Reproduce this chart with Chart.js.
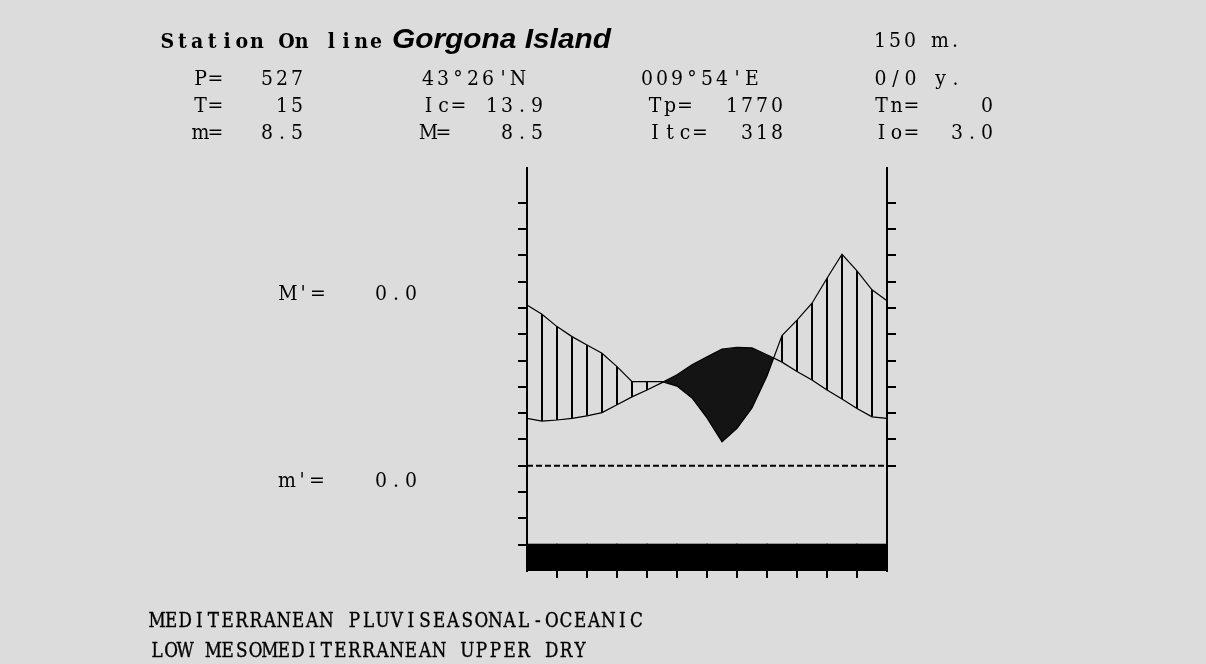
<!DOCTYPE html>
<html>
<head>
<meta charset="utf-8">
<title>Gorgona Island - bioclimatic diagram</title>
<script src="https://cdn.jsdelivr.net/npm/chart.js@4.4.0/dist/chart.umd.min.js"></script>
<style>
  html, body { margin: 0; padding: 0; background: #dcdcdc; }
  #wrap { position: relative; width: 1206px; height: 664px; overflow: hidden; }
  #chart, #labels { position: absolute; left: 0; top: 0; }
  .cell { font-family: 'DejaVu Serif', serif; font-size: 21px; fill: #000; }
  .head { font-family: 'DejaVu Serif', serif; font-size: 20px; font-weight: bold; fill: #000; }
  .foot { font-family: 'DejaVu Serif', serif; font-size: 21px; fill: #000; stroke: #000; stroke-width: 0.4px; }
  .name { font-family: 'Liberation Sans', Arial, sans-serif; font-size: 28px; font-weight: bold; font-style: italic; fill: #000; }
</style>
</head>
<body>
<div id="wrap">
  <canvas id="chart" width="1206" height="664"></canvas>
  <svg id="labels" width="1206" height="664" xmlns="http://www.w3.org/2000/svg"></svg>
</div>
<script>
// ---- data ----
// position along the year in months (0 = start of Jan, 12 = end of Dec)
const monthPos = [0, 0.5, 1, 1.5, 2, 2.5, 3, 3.5, 4, 4.5, 5, 5.5, 6, 6.5, 7, 7.5, 8, 8.5, 9, 9.5, 10, 10.5, 11, 11.5, 12];
// mean temperature, °C
const temperature = [9.0, 8.5, 8.7, 9.0, 9.5, 10.1, 11.6, 13.1, 14.4, 15.8, 17.3, 19.2, 20.7, 22.2, 22.5, 22.4, 21.1, 19.7, 17.9, 16.3, 14.4, 12.7, 10.9, 9.3, 9.0];
// precipitation, mm
const precipitation = [61.1, 57.6, 52.9, 49.1, 45.9, 42.8, 37.7, 32.0, 32.0, 32.0, 30.3, 25.8, 18.2, 9.1, 14.2, 22.0, 34.1, 49.5, 55.4, 61.8, 71.3, 80.4, 74.1, 66.9, 62.7];

const months = ['Jan', 'Feb', 'Mar', 'Apr', 'May', 'Jun', 'Jul', 'Aug', 'Sep', 'Oct', 'Nov', 'Dec'];
const frostFree = [1, 1, 1, 1, 1, 1, 1, 1, 1, 1, 1, 1];
const frostBand = [-20, -15];      // °C band used for the frost strip

const tempTicks = [-15, -10, -5, 0, 5, 10, 15, 20, 25, 30, 35, 40, 45, 50];
const precTicks = [0, 10, 20, 30, 40, 50, 60, 70, 80, 90, 100];
const monthTicks = [1, 2, 3, 4, 5, 6, 7, 8, 9, 10, 11];

const headerLeft = ['Station On line'];
const stationName = ['Gorgona Island'];
const altitude = ['150 m.'];
const statLabels = ['P=', 'T=', 'm=', 'Ic=', 'M=', 'Tp=', 'Itc=', 'Tn=', 'Io='];
const statValues = ['527', '15', '8.5', '13.9', '8.5', '1770', '318', '0', '3.0'];
const coords = ['43°26\'N', '009°54\'E', '0/0 y.'];
const sideLabels = ['M\'=', 'm\'='];
const sideValues = ['0.0', '0.0'];
const bioclimate = ['MEDITERRANEAN PLUVISEASONAL-OCEANIC', 'LOW MESOMEDITERRANEAN UPPER DRY'];

// ---- chart ----
const canvas = document.getElementById('chart');
const ctx = canvas.getContext('2d');

// vertical hatching for the humid period, lined up with the half-month grid
function makeHatch() {
    const tile = document.createElement('canvas');
    tile.width = 15;
    tile.height = 4;
    const g = tile.getContext('2d');
    g.fillStyle = '#000';
    g.fillRect(1, 0, 2, 4);
    return ctx.createPattern(tile, 'repeat');
}

const tempPoints = monthPos.map((x, i) => ({ x: x, y: temperature[i] }));
const precPoints = monthPos.map((x, i) => ({ x: x, y: precipitation[i] }));
const frostBars = months.map((m, i) => frostFree[i] ? { x: i + 0.5, y: frostBand } : null).filter(Boolean);
const zeroLine = [{ x: 0, y: 0 }, { x: 12, y: 0 }];

function setTicks(values) {
    return function (scale) {
        scale.ticks = values.map(v => ({ value: v }));
    };
}

new Chart(ctx, {
    data: {
        datasets: [
            {
                type: 'line',
                label: 'Precipitation',
                data: precPoints,
                yAxisID: 'yP',
                borderColor: '#000',
                borderWidth: 1.2,
                pointRadius: 0,
                tension: 0,
                fill: { target: 1, above: makeHatch(), below: '#141414' }
            },
            {
                type: 'line',
                label: 'Temperature',
                data: tempPoints,
                yAxisID: 'yT',
                borderColor: '#000',
                borderWidth: 1.2,
                pointRadius: 0,
                tension: 0,
                fill: false
            },
            {
                type: 'line',
                label: '0 °C',
                data: zeroLine,
                yAxisID: 'yT',
                borderColor: '#000',
                borderWidth: 2,
                borderDash: [6, 3],
                pointRadius: 0,
                fill: false
            },
            {
                type: 'bar',
                label: 'Frost free',
                data: frostBars,
                yAxisID: 'yT',
                backgroundColor: '#000',
                borderWidth: 0,
                inflateAmount: 1,
                barPercentage: 1,
                categoryPercentage: 1
            }
        ]
    },
    options: {
        responsive: false,
        animation: false,
        devicePixelRatio: 1,
        layout: { padding: { left: 518, right: 310, top: 168, bottom: 86 } },
        plugins: {
            legend: { display: false },
            tooltip: { enabled: false },
            filler: { drawTime: 'beforeDatasetsDraw' }
        },
        scales: {
            x: {
                type: 'linear',
                min: 0,
                max: 12,
                offset: false,
                afterBuildTicks: setTicks(monthTicks),
                afterFit: s => { s.height = 7; },
                ticks: { display: false },
                grid: { offset: false, drawOnChartArea: false, drawTicks: true, tickLength: 7, color: '#000', lineWidth: 2 },
                border: { display: false }
            },
            yT: {
                type: 'linear',
                position: 'left',
                min: -20,
                max: 56.6,
                afterBuildTicks: setTicks(tempTicks),
                afterFit: s => { s.width = 9; },
                ticks: { display: false },
                grid: { drawOnChartArea: false, drawTicks: true, tickLength: 9, color: '#000', lineWidth: 2 },
                border: { display: true, color: '#000', width: 2 }
            },
            yP: {
                type: 'linear',
                position: 'right',
                min: -40,
                max: 113.2,
                afterBuildTicks: setTicks(precTicks),
                afterFit: s => { s.width = 9; },
                ticks: { display: false },
                grid: { drawOnChartArea: false, drawTicks: true, tickLength: 9, color: '#000', lineWidth: 2 },
                border: { display: true, color: '#000', width: 2 }
            }
        }
    }
});

// ---- text ----
// the diagram uses a fixed-pitch serif face; each character is centred in its own cell
const svg = document.getElementById('labels');
const NS = 'http://www.w3.org/2000/svg';

function addCells(str, cellLeft, baseline, pitch, cls, sx) {
    const t = document.createElementNS(NS, 'text');
    const xs = [];
    for (let i = 0; i < str.length; i++) {
        xs.push(((cellLeft + pitch * (i + 0.5)) / sx).toFixed(2));
    }
    t.setAttribute('x', xs.join(' '));
    t.setAttribute('y', baseline);
    t.setAttribute('transform', 'scale(' + sx + ',1)');
    t.setAttribute('text-anchor', 'middle');
    t.setAttributeNS('http://www.w3.org/XML/1998/namespace', 'xml:space', 'preserve');
    t.setAttribute('class', cls);
    t.textContent = str;
    svg.appendChild(t);
}
function addCellsRight(str, cellRight, baseline, pitch, cls, sx) {
    addCells(str, cellRight - pitch * str.length, baseline, pitch, cls, sx);
}

const P = 15, SX = 0.9;

addCells(headerLeft[0], 160, 48, 14.9, 'head', 0.95);
const nm = document.createElementNS(NS, 'text');
nm.setAttribute('x', 392);
nm.setAttribute('y', 48);
nm.setAttribute('class', 'name');
nm.setAttribute('textLength', 219);
nm.setAttribute('lengthAdjust', 'spacingAndGlyphs');
nm.textContent = stationName[0];
svg.appendChild(nm);
addCells(altitude[0], 872.5, 47, P, 'cell', SX);

// label cell start, value cell end, row baseline
const rows = [85, 112, 139];
const statLayout = [
    [193, 304.5, rows[0]], [193, 304.5, rows[1]], [193, 304.5, rows[2]],
    [421, 544.5, rows[1]], [421, 544.5, rows[2]],
    [647.5, 784.5, rows[1]], [647.5, 784.5, rows[2]],
    [874, 994.5, rows[1]], [874, 994.5, rows[2]]
];
statLabels.forEach((lab, i) => {
    const [lx, rx, y] = statLayout[i];
    addCells(lab, lx, y, P, 'cell', SX);
    addCellsRight(statValues[i], rx, y, P, 'cell', SX);
});

addCells(coords[0], 420.5, rows[0], P, 'cell', SX);
addCells(coords[1], 639.5, rows[0], P, 'cell', SX);
addCells(coords[2], 873, rows[0], P, 'cell', SX);

addCells(sideLabels[0], 280.5, 300, P, 'cell', SX);
addCellsRight(sideValues[0], 418.5, 300, P, 'cell', SX);
addCells(sideLabels[1], 279.5, 487, P, 'cell', SX);
addCellsRight(sideValues[1], 418.5, 487, P, 'cell', SX);

addCells(bioclimate[0], 150, 627, 14.1, 'foot', 0.8);
addCells(bioclimate[1], 150, 657, 14.1, 'foot', 0.8);
</script>
</body>
</html>
